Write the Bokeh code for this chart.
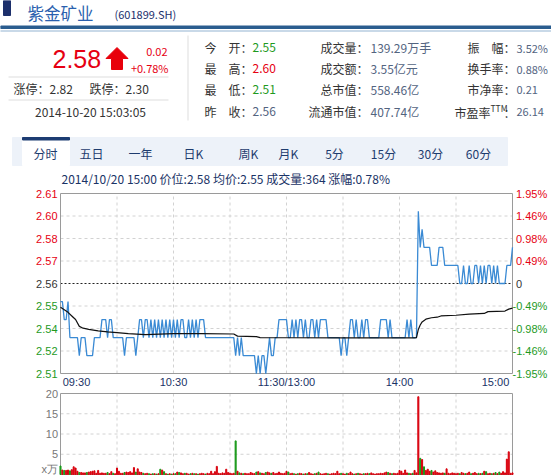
from bokeh.plotting import figure
from bokeh.models import Range1d, ColumnDataSource
from bokeh.layouts import column
from bokeh.core.properties import value
from bokeh.embed import file_html
from bokeh.resources import INLINE

# ---------------- data ----------------
STOCK_NAME = "紫金矿业"
STOCK_CODE = "(601899.SH)"
LAST_PRICE = "2.58"
CHANGE = "0.02"
CHANGE_PCT = "+0.78%"
LIMIT_UP = "涨停：2.82"
LIMIT_DOWN = "跌停：2.30"
QUOTE_TIME = "2014-10-20 15:03:05"
stat_labels_1 = ["今　开：", "最　高：", "最　低：", "昨　收："]
stat_values_1 = ["2.55", "2.60", "2.51", "2.56"]
stat_labels_2 = ["成交量：", "成交额：", "总市值：", "流通市值："]
stat_values_2 = ["139.29万手", "3.55亿元", "558.46亿", "407.74亿"]
stat_labels_3 = ["振　幅：", "换手率：", "市净率：", "市盈率"]
stat_values_3 = ["3.52%", "0.88%", "0.21", "26.14"]
TTM = "TTM"
tabs = ["分时", "五日", "一年", "日K", "周K", "月K", "5分", "15分", "30分", "60分"]
info_line = "2014/10/20 15:00  价位:2.58  均价:2.55  成交量:364  涨幅:0.78%"

PREV_CLOSE = 2.56
pct_levels = [1.95, 1.4625, 0.975, 0.4875, 0.0, -0.4875, -0.975, -1.4625, -1.95]
left_labels = ["2.61", "2.60", "2.58", "2.57", "2.56", "2.55", "2.54", "2.52", "2.51"]
right_labels = ["1.95%", "1.46%", "0.98%", "0.49%", "0", "-0.49%", "-0.98%", "-1.46%", "-1.95%"]
time_ticks = [0, 60, 120, 180, 240]
time_labels = ["09:30", "10:30", "11:30/13:00", "14:00", "15:00"]
grid_minutes = [30, 60, 90, 120, 150, 180, 210]
vol_ticks = [20, 15, 10, 5]
vol_labels = ["20", "15", "10", "5"]
vol_grid = [5, 10, 15]
vol_unit = "x万"

price = [
    2.55, 2.55, 2.54, 2.54, 2.55, 2.53, 2.53, 2.53, 2.53, 2.53,
    2.52, 2.53, 2.53, 2.53, 2.52, 2.52, 2.52, 2.52, 2.53, 2.53,
    2.53, 2.53, 2.54, 2.54, 2.54, 2.53, 2.54, 2.54, 2.53, 2.53,
    2.53, 2.53, 2.53, 2.53, 2.52, 2.53, 2.53, 2.53, 2.53, 2.53,
    2.52, 2.53, 2.54, 2.54, 2.53, 2.54, 2.54, 2.53, 2.54, 2.53,
    2.54, 2.53, 2.54, 2.53, 2.54, 2.53, 2.54, 2.53, 2.54, 2.53,
    2.54, 2.53, 2.54, 2.53, 2.54, 2.54, 2.53, 2.53, 2.54, 2.53,
    2.54, 2.53, 2.54, 2.53, 2.54, 2.54, 2.54, 2.53, 2.53, 2.53,
    2.53, 2.53, 2.53, 2.53, 2.53, 2.53, 2.53, 2.53, 2.53, 2.53,
    2.53, 2.53, 2.53, 2.52, 2.53, 2.52, 2.53, 2.52, 2.52, 2.52,
    2.52, 2.52, 2.52, 2.52, 2.51, 2.52, 2.51, 2.52, 2.52, 2.51,
    2.52, 2.53, 2.52, 2.52, 2.53, 2.53, 2.54, 2.54, 2.54, 2.54,
    2.54, 2.53, 2.53, 2.54, 2.53, 2.54, 2.53, 2.54, 2.54, 2.53,
    2.54, 2.53, 2.53, 2.54, 2.54, 2.53, 2.54, 2.53, 2.54, 2.54,
    2.54, 2.54, 2.53, 2.53, 2.53, 2.53, 2.53, 2.53, 2.53, 2.52,
    2.53, 2.53, 2.52, 2.53, 2.54, 2.54, 2.53, 2.54, 2.53, 2.53,
    2.54, 2.53, 2.54, 2.54, 2.53, 2.53, 2.53, 2.53, 2.53, 2.53,
    2.54, 2.54, 2.54, 2.54, 2.53, 2.54, 2.53, 2.53, 2.53, 2.53,
    2.53, 2.53, 2.53, 2.53, 2.54, 2.53, 2.54, 2.53, 2.53, 2.53,
    2.60, 2.58, 2.59, 2.58, 2.58, 2.58, 2.58, 2.57, 2.57, 2.57,
    2.57, 2.58, 2.58, 2.58, 2.57, 2.57, 2.57, 2.57, 2.57, 2.57,
    2.57, 2.57, 2.56, 2.56, 2.57, 2.56, 2.56, 2.57, 2.56, 2.56,
    2.57, 2.57, 2.56, 2.57, 2.56, 2.57, 2.56, 2.57, 2.57, 2.56,
    2.57, 2.56, 2.57, 2.56, 2.56, 2.56, 2.56, 2.57, 2.57, 2.57,
    2.58,
]
volume = [
    2.1, 1.1, 1.0, 1.0, 1.1, 0.9, 1.2, 1.9, 1.6, 0.8,
    0.5, 0.5, 0.4, 0.4, 0.5, 0.6, 0.7, 0.8, 0.9, 0.3,
    1.0, 0.3, 0.4, 0.3, 0.3, 0.5, 0.2, 0.7, 0.3, 0.2,
    1.6, 0.8, 0.3, 0.3, 0.5, 0.6, 0.5, 0.7, 0.4, 1.7,
    0.6, 1.4, 0.6, 0.5, 0.3, 0.2, 0.3, 0.2, 0.1, 0.2,
    0.2, 0.1, 0.2, 1.3, 1.1, 0.7, 0.2, 0.1, 0.2, 0.1,
    0.2, 0.2, 0.6, 0.5, 0.4, 0.2, 0.3, 0.3, 0.1, 0.2,
    0.3, 0.2, 0.2, 0.1, 0.2, 0.3, 0.2, 0.1, 0.3, 0.2,
    0.8, 0.2, 0.7, 2.0, 0.3, 0.2, 0.4, 0.3, 1.3, 0.5,
    0.3, 0.2, 0.3, 8.3, 0.8, 0.4, 0.3, 0.2, 0.3, 0.2,
    0.2, 0.5, 0.3, 0.2, 0.6, 0.7, 0.4, 0.3, 0.2, 0.5,
    0.6, 0.4, 0.3, 0.5, 0.2, 0.3, 0.6, 0.3, 0.2, 0.3,
    0.8, 0.6, 0.2, 0.3, 0.2, 0.1, 0.2, 0.3, 0.2, 0.1,
    0.2, 0.2, 0.5, 0.2, 0.1, 0.2, 0.3, 0.6, 0.2, 0.1,
    0.2, 0.3, 0.2, 0.1, 0.2, 0.3, 0.2, 0.8, 0.2, 0.3,
    0.2, 0.1, 0.3, 0.2, 0.6, 0.2, 0.1, 0.2, 0.3, 0.2,
    0.1, 0.2, 0.2, 0.3, 0.2, 0.4, 0.2, 0.1, 0.2, 0.2,
    0.3, 0.2, 0.4, 0.6, 0.5, 0.3, 0.2, 0.3, 0.2, 0.3,
    1.0, 0.8, 0.3, 1.1, 0.4, 0.3, 0.2, 0.3, 1.0, 0.4,
    19.2, 4.0, 3.7, 1.9, 1.0, 1.3, 0.8, 1.0, 0.6, 0.9,
    0.5, 0.4, 0.3, 0.4, 0.3, 1.4, 0.3, 0.2, 0.4, 0.3,
    0.2, 0.3, 0.2, 0.5, 0.3, 0.2, 0.3, 0.6, 0.2, 0.3,
    0.5, 0.2, 0.3, 0.2, 0.3, 0.8, 0.7, 0.2, 0.3, 0.2,
    0.3, 0.5, 0.2, 0.6, 0.3, 0.7, 0.4, 3.8, 5.6, 0.3,
    0.4,
]
avg_minutes = [0, 2, 4, 6, 8, 10, 12, 15, 20, 25, 30, 36, 45, 60, 75, 92, 94, 104, 106,
               120, 150, 188, 189, 190, 191, 192, 194, 197, 200, 202, 210, 217, 225, 227,
               236, 238, 240]
avg_price = [2.5468, 2.5455, 2.5440, 2.5420, 2.5400, 2.5362, 2.5352, 2.5346, 2.5337, 2.5332,
             2.5328, 2.5322, 2.5316, 2.5322, 2.5322, 2.5320, 2.5308, 2.5305, 2.5300,
             2.5299, 2.5298, 2.5298, 2.5300, 2.5345, 2.5370, 2.5387, 2.5402, 2.5410, 2.5413,
             2.5420, 2.5424, 2.5430, 2.5434, 2.5444, 2.5447, 2.5458, 2.5463]

# ---------------- style / layout ----------------
CJK = "Noto Sans CJK SC"
LAT = "Liberation Sans"
RED = "#e60012"
GREEN = "#1e9a1e"
SLATE = "#53647f"
DARK = "#333333"
NAVY = "#1c3c72"
GRIDC = "#d2d2d2"
FRAMEC = "#9a9a9a"
W = 551
HEAD_H, PRICE_H, VOL_H = 188, 200, 88
FRAME_L, FRAME_R = 60, 512          # frame edges in page pixels
PRICE_PAD_T, PRICE_PAD_B = 5, 15    # frame inside price figure
VOL_PAD_T, VOL_PAD_B = 5, 2

PPM = (FRAME_R - FRAME_L) / 240.0   # pixels per minute
x_lo = -FRAME_L / PPM
x_hi = 240 + (W - FRAME_R) / PPM

minutes = list(range(len(price)))
ylo = PREV_CLOSE * (1 - pct_levels[0] / 100)
yhi = PREV_CLOSE * (1 + pct_levels[0] / 100)
PPU = (PRICE_H - PRICE_PAD_T - PRICE_PAD_B) / (yhi - ylo)
level_y = [PREV_CLOSE * (1 + p / 100) for p in pct_levels]
level_col = [RED if p > 0 else (DARK if p == 0 else GREEN) for p in pct_levels]


def base_fig(h, xr, yr):
    f = figure(width=W, height=h, x_range=xr, y_range=yr, x_axis_type=None, y_axis_type=None,
               output_backend="svg", toolbar_location=None, min_border=0,
               min_border_left=0, min_border_right=0, min_border_top=0, min_border_bottom=0)
    f.outline_line_color = None
    f.background_fill_color = "white"
    f.border_fill_color = "white"
    return f


def put(fig, x, y, text, color, size, font=CJK, align="left", baseline="middle"):
    xs = x if isinstance(x, list) else [x]
    ys = y if isinstance(y, list) else [y]
    ts = text if isinstance(text, list) else [text]
    cs = color if isinstance(color, list) else [color] * len(ts)
    src = ColumnDataSource(dict(x=xs, y=ys, t=ts, clr=cs))
    fig.text(x="x", y="y", text="t", text_color="clr", source=src, text_font=value(font),
             text_font_size=value(f"{size}px"), text_align=align, text_baseline=baseline)


# ---------------- header ----------------
hf = base_fig(HEAD_H, Range1d(0, W), Range1d(HEAD_H, 0))

hf.quad(left=[3], right=[10], top=[0], bottom=[15], color="#1c2f6b")
put(hf, 27, 12, STOCK_NAME, "#2a5fae", 16.5)
put(hf, 114, 13, STOCK_CODE, "#1c2f6b", 11)
hf.quad(left=[0], right=[W], top=[25.5], bottom=[28], color="#2a5d8f")
hf.quad(left=[0], right=[W], top=[30], bottom=[31], color="#c9d9e8")

put(hf, 52, 58.5, LAST_PRICE, RED, 25, font=LAT)
hf.patch(x=[116.5, 127.5, 122, 122, 111, 111, 105.5], y=[47, 58, 58, 69, 69, 58, 58], color="#e8000b")
put(hf, 167, 51.5, CHANGE, RED, 11, align="right")
put(hf, 168, 67.5, CHANGE_PCT, RED, 11, align="right")
hf.segment(x0=[8, 8], y0=[76.5, 99.5], x1=[168, 168], y1=[76.5, 99.5], color="#dddddd", line_width=1)
put(hf, 13, 88, LIMIT_UP, DARK, 12)
put(hf, 89, 88, LIMIT_DOWN, DARK, 12)
put(hf, 90, 110.5, QUOTE_TIME, DARK, 12, align="center")
hf.segment(x0=[187.5], y0=[35], x1=[187.5], y1=[120], color="#dddddd", line_width=1)

row_y = [47, 68, 89, 111]
put(hf, [204] * 4, row_y, stat_labels_1, DARK, 12)
put(hf, [252] * 4, row_y, stat_values_1, [GREEN, RED, GREEN, SLATE], 12)
put(hf, [368] * 4, row_y, stat_labels_2, DARK, 12, align="right")
put(hf, [370] * 4, row_y, stat_values_2, SLATE, 12)
put(hf, [516] * 4, row_y, stat_values_3, SLATE, 11)
put(hf, [515] * 3, row_y[:3], stat_labels_3[:3], DARK, 12, align="right")
put(hf, 490, row_y[3] + 1, stat_labels_3[3], DARK, 12, align="right")
put(hf, 490, row_y[3] - 4, TTM, DARK, 8.5)
put(hf, 515, row_y[3] + 1, "：", DARK, 12, align="right")

# tabs
hf.quad(left=[12], right=[507], top=[137], bottom=[165], color="#edf2f9")
hf.quad(left=[22], right=[69], top=[139.5], bottom=[165], color="white")
hf.quad(left=[22], right=[69], top=[137], bottom=[139.5], color=NAVY)
tab_x = [45, 91, 140, 193, 248, 288, 334, 383, 430, 478]
put(hf, tab_x, [152.5] * len(tabs), tabs, "#1e3c6e", 12, align="center")
put(hf, 61, 178, info_line, "#1a3366", 12)

# ---------------- price chart ----------------
pf = base_fig(PRICE_H, Range1d(x_lo, x_hi),
              Range1d(ylo - PRICE_PAD_B / PPU, yhi + PRICE_PAD_T / PPU))
inner_levels = [v for v, p in zip(level_y, pct_levels) if abs(p) < 1.9 and p != 0]
pf.segment(x0=[0] * len(inner_levels), x1=[240] * len(inner_levels), y0=inner_levels,
           y1=inner_levels, color=GRIDC, line_dash="3 3", line_width=1)
pf.segment(x0=grid_minutes, x1=grid_minutes, y0=[ylo] * len(grid_minutes),
           y1=[yhi] * len(grid_minutes), color=GRIDC, line_dash="3 3", line_width=1)
pf.segment(x0=[0], x1=[240], y0=[PREV_CLOSE], y1=[PREV_CLOSE], color="#222222",
           line_dash="2 2", line_width=1)
pf.quad(left=[0], right=[240], bottom=[ylo], top=[yhi], fill_color=None, line_color=FRAMEC)
pf.line(minutes, price, color="#3a8ad4", line_width=1.3)
pf.line(avg_minutes, avg_price, color="#111111", line_width=1.2)

put(pf, [-3 / PPM] * len(level_y), level_y, left_labels, level_col, 11, font=LAT, align="right")
neg_shift = [(-3.5 if p < 0 else 0.0) for p in pct_levels]
put(pf, [240 + (3.5 + s) / PPM for s in neg_shift], level_y, right_labels, level_col, 11,
    font=LAT)
time_shift_px = [16, 0, 0, 0, -17]
put(pf, [t + s / PPM for t, s in zip(time_ticks, time_shift_px)],
    [ylo - 8.5 / PPU] * len(time_ticks), time_labels, "#1a3366", 11, font=LAT, align="center")

# ---------------- volume chart ----------------
PPV = (VOL_H - VOL_PAD_T - VOL_PAD_B) / 20.0
vf = base_fig(VOL_H, pf.x_range, Range1d(-VOL_PAD_B / PPV, 20 + VOL_PAD_T / PPV))
vf.segment(x0=[0] * len(vol_grid), x1=[240] * len(vol_grid), y0=vol_grid, y1=vol_grid,
           color=GRIDC, line_dash="3 3", line_width=1)
vf.segment(x0=grid_minutes, x1=grid_minutes, y0=[0] * len(grid_minutes),
           y1=[20] * len(grid_minutes), color=GRIDC, line_dash="3 3", line_width=1)
vf.quad(left=[0], right=[240], bottom=[0], top=[20], fill_color=None, line_color=FRAMEC)
bar_col = []
for i, p in enumerate(price):
    ref = PREV_CLOSE if i == 0 else price[i - 1]
    bar_col.append("#d9000d" if p >= ref else "#1a9a1a")
vf.vbar(x=minutes, top=volume, bottom=0, width=0.55, color=bar_col)
put(vf, [-2.5 / PPM] * len(vol_ticks), vol_ticks, vol_labels, "#777777", 11, font=LAT,
    align="right")
put(vf, -2.5 / PPM, 1.4, vol_unit, "#777777", 11, font=LAT, align="right")

layout = column(hf, pf, vf, spacing=0)
open("out.html", "w").write(file_html(layout, INLINE))
